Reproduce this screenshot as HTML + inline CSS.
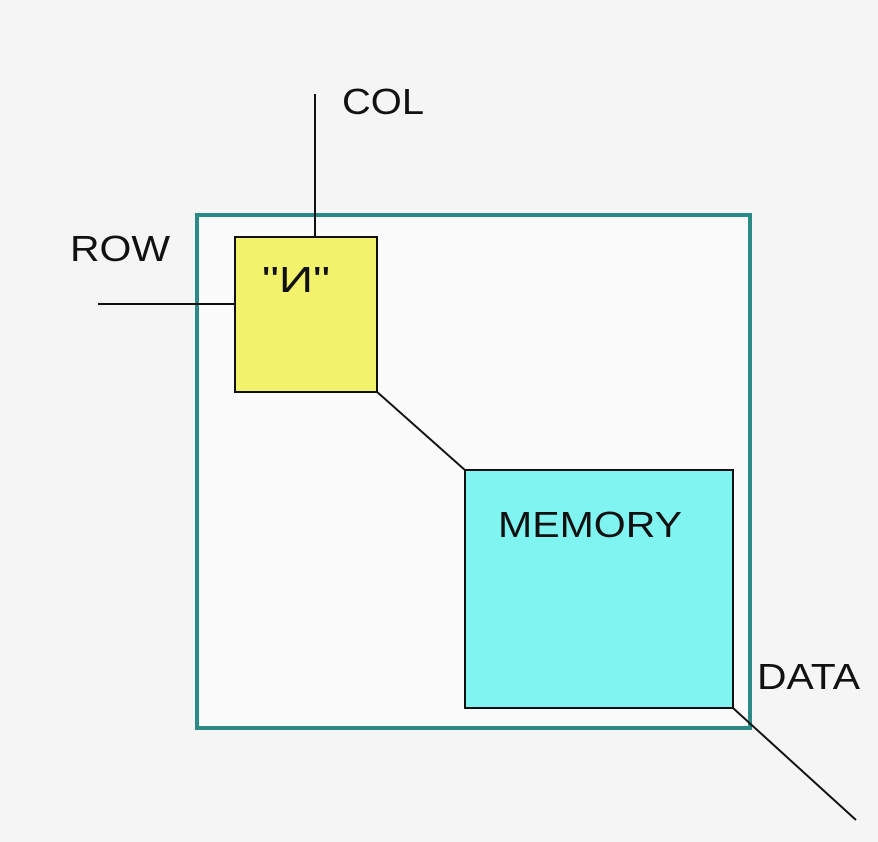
<!DOCTYPE html>
<html><head><style>
html,body{margin:0;padding:0;background:#f5f5f5;}
svg{display:block;}
text{font-family:"Liberation Sans",sans-serif;font-size:36px;fill:#111;}
</style></head><body>
<svg width="878" height="842" viewBox="0 0 878 842">
<rect x="0" y="0" width="878" height="842" fill="#f5f5f5"/>
<rect x="197" y="215" width="553" height="513" fill="#fbfbfb" stroke="#2a8a86" stroke-width="4"/>
<line x1="315" y1="94" x2="315" y2="238" stroke="#111" stroke-width="2"/>
<line x1="98" y1="304" x2="236" y2="304" stroke="#111" stroke-width="2"/>
<line x1="376" y1="391" x2="466" y2="471" stroke="#111" stroke-width="2"/>
<line x1="733" y1="708" x2="856" y2="820" stroke="#111" stroke-width="2"/>
<rect x="235" y="237" width="142" height="155" fill="#f2f26c" stroke="#111" stroke-width="2"/>
<rect x="465" y="470" width="268" height="238" fill="#80f4f0" stroke="#111" stroke-width="2"/>
<text x="342" y="114" textLength="82" lengthAdjust="spacingAndGlyphs">COL</text>
<text x="70" y="261" textLength="100" lengthAdjust="spacingAndGlyphs">ROW</text>
<text x="262" y="292" textLength="68" lengthAdjust="spacingAndGlyphs">"И"</text>
<text x="498" y="537" textLength="184" lengthAdjust="spacingAndGlyphs">MEMORY</text>
<text x="757" y="689" textLength="103" lengthAdjust="spacingAndGlyphs">DATA</text>
</svg>
</body></html>
